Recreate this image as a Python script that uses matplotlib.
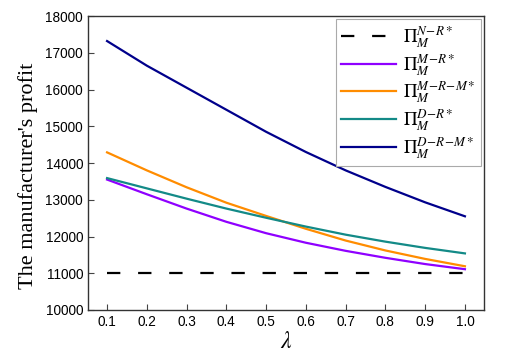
import numpy as np
import matplotlib
matplotlib.use("Agg")
import matplotlib.pyplot as plt

plt.rcParams['mathtext.fontset'] = 'stix'

# lambda values and profits
lam = [0.1, 0.2, 0.3, 0.4, 0.5, 0.6, 0.7, 0.8, 0.9, 1.0]
profit_NR = [11000, 11000, 11000, 11000, 11000, 11000, 11000, 11000, 11000, 11000]
profit_MR = [13550, 13150, 12760, 12400, 12090, 11830, 11610, 11420, 11250, 11110]
profit_MRM = [14290, 13800, 13340, 12920, 12560, 12210, 11890, 11620, 11390, 11190]
profit_DR = [13590, 13310, 13030, 12760, 12510, 12270, 12050, 11860, 11690, 11540]
profit_DRM = [17320, 16650, 16050, 15450, 14850, 14300, 13800, 13350, 12930, 12550]

labels = [r'$\Pi_M^{N\!-\!R*}$', r'$\Pi_M^{M\!-\!R*}$', r'$\Pi_M^{M\!-\!R\!-\!M*}$',
          r'$\Pi_M^{D\!-\!R*}$', r'$\Pi_M^{D\!-\!R\!-\!M*}$']

fig = plt.figure(figsize=(5.16, 3.57), dpi=100)
ax = fig.add_axes([0.1705, 0.1317, 0.7675, 0.8233])

ax.plot(lam, profit_NR, color='black', lw=1.6, dashes=(6, 8), label=labels[0])
ax.plot(lam, profit_MR, color='#8f00ff', lw=1.6, label=labels[1])
ax.plot(lam, profit_MRM, color='#ff8c00', lw=1.6, label=labels[2])
ax.plot(lam, profit_DR, color='#138a87', lw=1.6, label=labels[3])
ax.plot(lam, profit_DRM, color='#00008b', lw=1.6, label=labels[4])

ax.set_xlim(0.052, 1.048)
ax.set_ylim(10000, 18000)
ax.set_xticks(lam)
ax.set_xticklabels(['%.1f' % v for v in lam])
ax.set_yticks(np.arange(10000, 18001, 1000))
ax.tick_params(direction='in', length=4, width=0.8, labelsize=9.8, color='#444444')
for lbl in ax.get_xticklabels() + ax.get_yticklabels():
    lbl.set_family('Liberation Sans')
for s in ax.spines.values():
    s.set_color('#333333')
    s.set_linewidth(1.0)

ax.set_ylabel("The manufacturer's profit", family='Liberation Serif', fontsize=16)
ax.yaxis.set_label_coords(-0.125, 0.456)
ax.set_xlabel(r'$\lambda$', fontsize=17, labelpad=0)

leg = ax.legend(loc='upper right', fontsize=13.5, handlelength=2.9, labelspacing=0.1,
                borderpad=0.3, handletextpad=0.4, fancybox=False, framealpha=1,
                borderaxespad=0.15)
leg.get_frame().set_edgecolor('#aaaaaa')
leg.get_frame().set_linewidth(0.8)

fig.savefig('out.png', dpi=100)
